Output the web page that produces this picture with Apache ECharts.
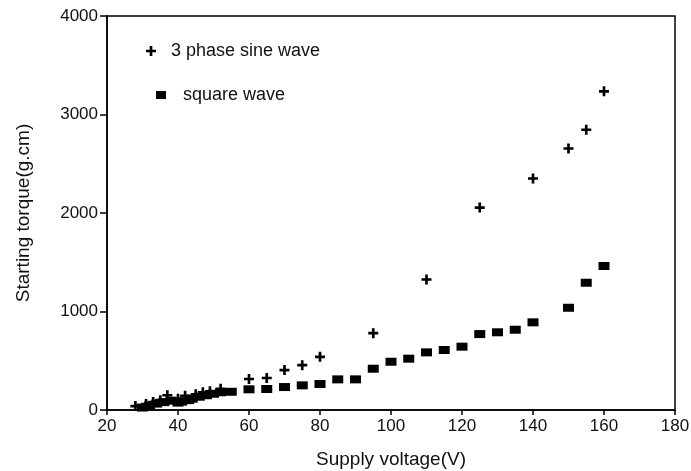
<!DOCTYPE html>
<html>
<head>
<meta charset="utf-8">
<title>Starting torque vs supply voltage</title>
<script src="https://cdn.jsdelivr.net/npm/echarts@6/dist/echarts.min.js"></script>
<style>
	html, body { margin: 0; padding: 0; background: #fff; }
	#chart { width: 691px; height: 471px; }
</style>
</head>
<body>
<div id="chart"></div>
<script>
// 3 phase sine wave (+)
var sineVoltage = [28, 31, 33, 35, 37, 40, 42, 45, 47, 49, 52, 60, 65, 70, 75, 80, 95, 110, 125, 140, 150, 155, 160];
var sineTorque = [40, 60, 80, 100, 150, 115, 145, 160, 180, 190, 215, 315, 325, 405, 455, 540, 780, 1325, 2055, 2350, 2655, 2845, 3235];

// square wave
var squareVoltage = [30, 32, 34, 36, 38, 40, 41, 43, 44, 46, 48, 50, 52, 55, 60, 65, 70, 75, 80, 85, 90, 95, 100, 105, 110, 115, 120, 125, 130, 135, 140, 150, 155, 160];
var squareTorque = [25, 45, 65, 80, 95, 75, 85, 100, 115, 135, 150, 165, 180, 185, 210, 213, 233, 250, 264, 311, 311, 419, 490, 521, 585, 609, 643, 771, 789, 815, 890, 1038, 1292, 1462];

var xTicks = { min: 20, max: 180, interval: 20 };
var yTicks = { min: 0, max: 4000, interval: 1000 };

var plusIcon = 'path://M3.3,0H5.7V3.3H9V5.7H5.7V9H3.3V5.7H0V3.3H3.3Z';
var font = 'Liberation Sans, Arial, sans-serif';

function pairs(xs, ys){
	var arr = [];
	xs.map(function(x, i){
		arr.push([x, ys[i]]);
	});
	return arr;
}

var myChart = echarts.init(document.getElementById('chart'));
var option = {
	animation : false,
	backgroundColor : '#fff',
	grid : {
		left : 107,
		right : 16,
		top : 16,
		bottom : 61,
		outerBoundsMode : 'none',
		show : true,
		borderColor : '#000',
		borderWidth : 1.5
	},
	legend : [
		{
			data : [{ name : '3 phase sine wave', icon : plusIcon }],
			left : 141,
			top : 37,
			itemWidth : 10,
			itemHeight : 10,
			itemGap : 0,
			itemStyle : { opacity : 1 },
			textStyle : { fontFamily : font, fontSize : 18, color : '#111', padding : [0, 0, 0, 10] }
		},
		{
			data : [{ name : 'square wave', icon : 'rect' }],
			left : 151,
			top : 81,
			itemWidth : 10,
			itemHeight : 8,
			itemGap : 0,
			itemStyle : { opacity : 1 },
			textStyle : { fontFamily : font, fontSize : 18, color : '#111', padding : [0, 0, 0, 12] }
		}
	],
	xAxis : {
		type : 'value',
		min : xTicks.min,
		max : xTicks.max,
		interval : xTicks.interval,
		name : 'Supply voltage(V)',
		nameLocation : 'middle',
		nameGap : 40,
		nameTextStyle : { fontFamily : font, fontSize : 19, color : '#111' },
		axisLine : { show : true, lineStyle : { color : '#000', width : 1.5 } },
		axisTick : { show : true, inside : false, length : 5, lineStyle : { color : '#000', width : 1.5 } },
		axisLabel : { fontFamily : font, fontSize : 17, color : '#111', margin : 8 },
		splitLine : { show : false }
	},
	yAxis : {
		type : 'value',
		min : yTicks.min,
		max : yTicks.max,
		interval : yTicks.interval,
		name : 'Starting torque(g.cm)',
		nameLocation : 'middle',
		nameGap : 74,
		nameTextStyle : { fontFamily : font, fontSize : 19, color : '#111' },
		axisLine : { show : true, lineStyle : { color : '#000', width : 1.5 } },
		axisTick : { show : true, inside : false, length : 7, lineStyle : { color : '#000', width : 1.5 } },
		axisLabel : {
			fontFamily : font,
			fontSize : 17,
			color : '#111',
			margin : 9,
			formatter : function(v){ return String(v); }
		},
		splitLine : { show : false }
	},
	series : [
		{
			name : '3 phase sine wave',
			type : 'scatter',
			symbol : plusIcon,
			symbolSize : 10,
			itemStyle : { color : '#000', opacity : 1 },
			data : pairs(sineVoltage, sineTorque),
			z : 3
		},
		{
			name : 'square wave',
			type : 'scatter',
			symbol : 'rect',
			symbolSize : [11, 8],
			itemStyle : { color : '#000', opacity : 1 },
			data : pairs(squareVoltage, squareTorque),
			z : 2
		}
	]
};
myChart.setOption(option);
</script>
</body>
</html>
